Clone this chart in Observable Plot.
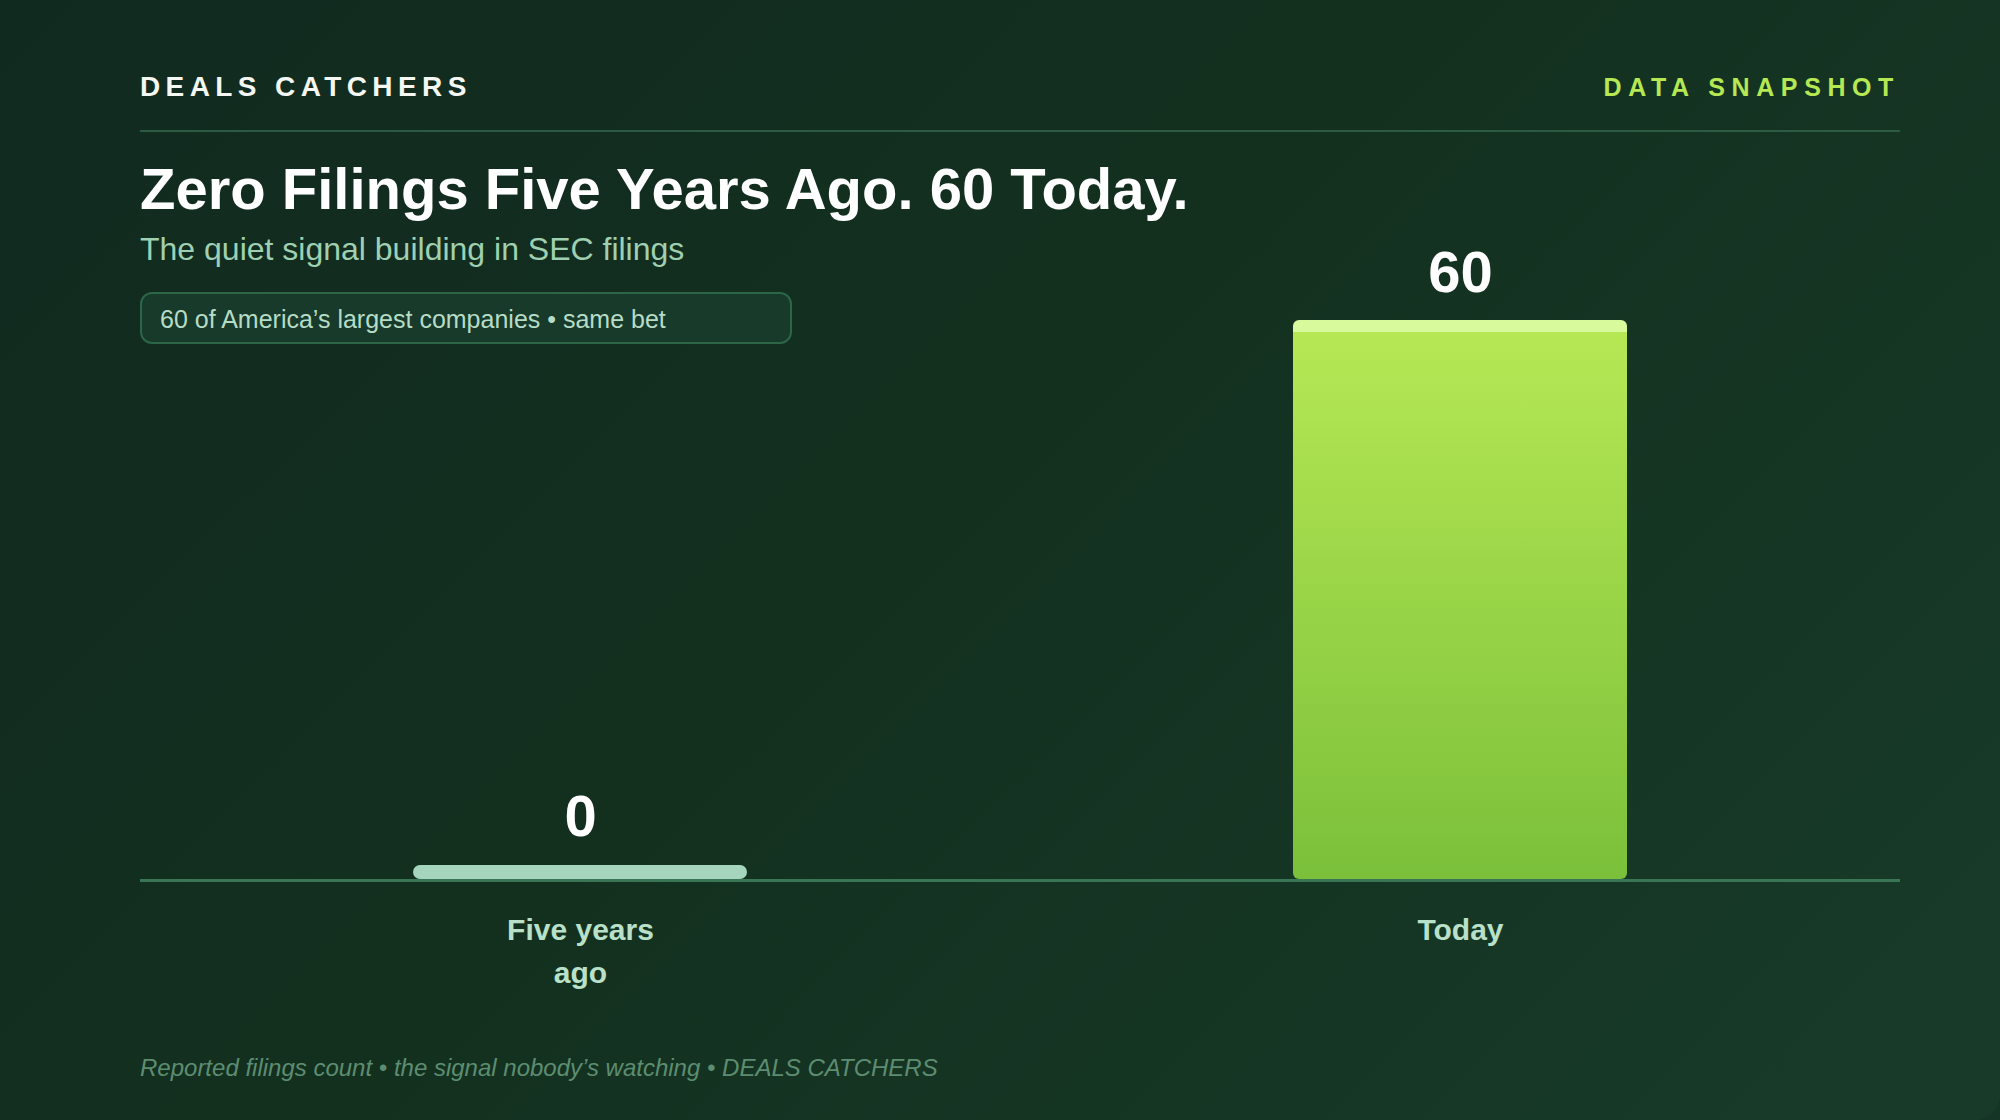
<!DOCTYPE html>
<html>
<head>
<meta charset="utf-8">
<script src="https://cdn.jsdelivr.net/npm/d3@7"></script>
<script src="https://cdn.jsdelivr.net/npm/@observablehq/plot@0.6"></script>
<style>
  html, body { margin: 0; padding: 0; width: 2000px; height: 1120px; overflow: hidden; background: #153627; }
  #card {
    position: absolute; left: 0; top: 0; width: 2000px; height: 1120px;
    background: linear-gradient(135deg, #112a20 0%, #13301f 45%, #183b29 100%);
    font-family: "Liberation Sans", Arial, Helvetica, sans-serif;
    border-radius: 0 0 26px 0;
  }
  .abs { position: absolute; line-height: 1; white-space: nowrap; margin: 0; }
  #brand { left: 140px; top: 73px; font-size: 28px; font-weight: 700; letter-spacing: 5.4px; color: #f4f7f2; }
  #tag { right: 100px; top: 75px; font-size: 25px; font-weight: 700; letter-spacing: 6.6px; color: #b5e853; }
  #divider { position: absolute; left: 140px; top: 130px; width: 1760px; height: 2px; background: #2c5a42; }
  #title { left: 140px; top: 160px; font-size: 58px; font-weight: 700; color: #ffffff; }
  #subtitle { left: 140px; top: 233px; font-size: 32px; font-weight: 400; color: #9fd0b1; }
  #pill {
    position: absolute; left: 140px; top: 292px; width: 652px; height: 52px; box-sizing: border-box;
    border: 2px solid #2d6547; border-radius: 12px; background: #173a2a;
    display: flex; align-items: center; padding-left: 18px; padding-top: 2px;
    font-size: 25px; color: #b6dcc6; white-space: nowrap;
  }
  #chart { position: absolute; left: 140px; top: 220px; width: 1760px; height: 800px; }
  #footer { left: 140px; top: 1056px; font-size: 24px; font-style: italic; color: #5d8d71; }
</style>
</head>
<body>
<div id="card">
  <div id="brand" class="abs">DEALS CATCHERS</div>
  <div id="tag" class="abs">DATA SNAPSHOT</div>
  <div id="divider"></div>
  <h1 id="title" class="abs">Zero Filings Five Years Ago. 60 Today.</h1>
  <div id="subtitle" class="abs">The quiet signal building in SEC filings</div>
  <div id="pill">60 of America’s largest companies • same bet</div>
  <div id="chart"></div>
  <div id="footer" class="abs">Reported filings count • the signal nobody’s watching • DEALS CATCHERS</div>
</div>
<script>
// ---- data ----
const categories = ["Five years ago", "Today"];
const filings = [0, 60];
const tickLabels = ["Five years\nago", "Today"];

const data = categories.map((c, i) => ({category: c, value: filings[i]}));
const positive = data.filter(d => d.value > 0);
const zeros = data.filter(d => d.value === 0);
const maxVal = d3.max(filings);

const gradientDefs = (index, scales) => {
  const h = scales.y(0) - scales.y(maxVal);
  const off = Math.min(1, 12 / h);
  const defs = d3.create("svg:defs");
  const g = defs.append("linearGradient")
    .attr("id", "barGrad").attr("x1", 0).attr("y1", 0).attr("x2", 0).attr("y2", 1);
  g.append("stop").attr("offset", 0).attr("stop-color", "#d9f99d");
  g.append("stop").attr("offset", off).attr("stop-color", "#d9f99d");
  g.append("stop").attr("offset", off).attr("stop-color", "#b6e854");
  g.append("stop").attr("offset", 1).attr("stop-color", "#7bc03a");
  return defs.node();
};

const chart = Plot.plot({
  width: 1760,
  height: 800,
  marginTop: 100,
  marginBottom: 141,
  marginLeft: 0,
  marginRight: 0,
  style: {background: "transparent", fontFamily: "Liberation Sans, Arial, sans-serif", overflow: "visible"},
  x: {domain: categories, paddingInner: 0.62, paddingOuter: 0.31, label: null},
  y: {domain: [0, maxVal], axis: null},
  marks: [
    gradientDefs,
    Plot.barY(positive, {x: "category", y: "value", fill: "url(#barGrad)", rx: 6}),
    Plot.barY(zeros, {x: "category", y1: "value", y2: "value", insetTop: -14, fill: "#a6d5bd", rx: 7}),
    Plot.ruleY([0], {stroke: "#3a7555", strokeWidth: 3, dy: 1}),
    Plot.text(positive, {x: "category", y: "value", text: d => String(d.value), dy: -29, lineAnchor: "bottom",
      fontSize: 58, fontWeight: 700, fill: "#ffffff"}),
    Plot.text(zeros, {x: "category", y: "value", text: d => String(d.value), dy: -44, lineAnchor: "bottom",
      fontSize: 58, fontWeight: 700, fill: "#ffffff"}),
    Plot.axisX({tickSize: 0, tickPadding: 30, fontSize: 30, fontWeight: 700, lineHeight: 1.43, label: null,
      color: "#b9e0c8", tickFormat: c => tickLabels[categories.indexOf(c)]})
  ]
});
document.getElementById("chart").appendChild(chart);
</script>
</body>
</html>
